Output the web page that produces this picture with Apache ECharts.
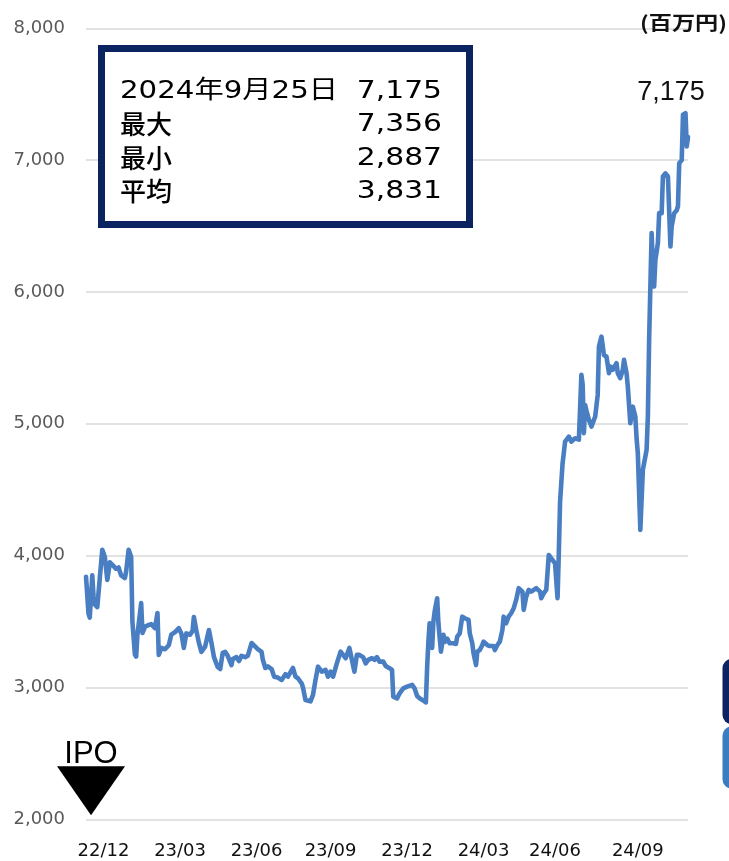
<!DOCTYPE html>
<html>
<head>
<meta charset="utf-8">
<script src="https://cdn.jsdelivr.net/npm/echarts@6/dist/echarts.min.js"></script>
<style>
  html, body { margin: 0; padding: 0; background: #fff; }
  #chart { width: 729px; height: 861px; }
</style>
</head>
<body>
<div id="chart"></div>
<script>
// Trading session index since listing, and market capitalisation (百万円) per session
const sessions = [0,1,2,3,5,6,7,9,11,13,15,17,18,19,22,24,26,27,28,31,32,34,36,37,39,40,41,44,45,47,49,52,55,57,58,60,63,66,68,71,74,76,78,80,83,85,86,88,90,92,95,98,100,102,105,107,109,111,113,116,117,120,122,124,127,129,132,135,137,140,141,143,145,148,150,153,156,159,161,165,167,169,172,173,175,179,181,183,185,188,191,193,195,197,200,203,207,208,210,212,214,216,218,221,223,225,228,230,232,234,237,239,242,244,245,248,250,253,256,260,262,264,266,269,271,272,273,274,276,277,278,280,281,283,285,286,288,290,293,295,296,298,300,302,305,306,308,309,311,312,314,316,317,320,322,325,326,328,330,332,333,335,337,339,341,343,345,348,349,351,353,355,357,359,362,363,365,367,369,371,374,376,377,378,380,381,382,385,387,390,393,395,396,397,398,399,401,403,406,408,409,411,413,415,417,418,420,423,424,426,428,429,431,432,434,436,438,439,440,442,444,447,448,449,450,451,452,453,454,456,457,459,460,462,463,464,466,467,469,471,472,473,475,476,477,478,479,480];
const prices = [3840,3700,3560,3530,3850,3690,3630,3610,3830,4045,3990,3815,3880,3950,3920,3900,3910,3880,3850,3830,3880,4045,3990,3500,3250,3234,3400,3640,3413,3460,3470,3480,3450,3565,3247,3300,3290,3320,3400,3420,3450,3410,3300,3410,3400,3430,3535,3430,3340,3270,3310,3436,3340,3232,3155,3140,3262,3270,3240,3170,3215,3230,3200,3240,3230,3240,3337,3310,3290,3270,3210,3148,3160,3140,3082,3075,3057,3100,3082,3148,3082,3070,3030,3000,2905,2895,2944,3057,3158,3120,3133,3082,3120,3082,3183,3272,3222,3222,3300,3210,3120,3247,3247,3230,3183,3209,3222,3209,3230,3196,3196,3163,3146,3133,2930,2917,2955,2993,3006,3020,2993,2935,2918,2900,2887,3150,3350,3487,3300,3500,3576,3677,3487,3272,3400,3345,3370,3335,3335,3330,3385,3411,3537,3525,3512,3411,3335,3260,3170,3272,3284,3322,3348,3322,3314,3314,3284,3322,3348,3436,3537,3487,3537,3563,3601,3664,3753,3727,3588,3689,3740,3727,3740,3753,3727,3677,3715,3740,4005,3980,3942,3677,4020,4410,4700,4780,4865,4903,4865,4890,4880,5371,5300,4929,5143,5100,5030,4979,5055,5219,5585,5661,5520,5510,5384,5435,5410,5460,5384,5346,5410,5485,5384,5283,5004,5130,5055,4890,4776,4195,4650,4803,5055,5636,6041,6446,6200,6041,6244,6370,6598,6598,6876,6900,6914,6876,6345,6500,6598,6620,6650,6977,7000,7344,7356,7356,7104,7175];

// Quarter tick labels on the session axis
const tickSessions = [14, 75, 136, 195, 256, 317, 374, 440];
const tickLabels = ['22/12', '23/03', '23/06', '23/09', '23/12', '24/03', '24/06', '24/09'];

// Value axis ticks
const yTicks = [2000, 3000, 4000, 5000, 6000, 7000, 8000];

// Summary figures
const ipoSession = 4;
const latestDate = '2024年9月25日';
const averagePrice = 3831;
const unitLabel = '(百万円)';
const statNames = ['最大', '最小', '平均'];

const fmt = v => Math.round(v).toLocaleString('en-US');
const lastPrice = prices[prices.length - 1];
const lastSession = sessions[sessions.length - 1];
const maxPrice = Math.max(...prices);
const minPrice = Math.min(...prices);
const statValues = [maxPrice, minPrice, averagePrice];

const chart = echarts.init(document.getElementById('chart'), null, { renderer: 'canvas' });

const seriesData = sessions.map((s, i) => [s, prices[i]]);

const labelFont = '"DejaVu Sans", "Noto Sans CJK JP", sans-serif';
const boxRows = [91, 124.5, 158, 191.5];

const boxTexts = [];
boxTexts.push({
  type: 'text', x: 120, y: boxRows[0], scaleX: 1.17, z: 101,
  style: { text: latestDate, font: '25px ' + labelFont, fill: '#000',
           align: 'left', verticalAlign: 'middle', textAlign: 'left', textVerticalAlign: 'middle' }
});
boxTexts.push({
  type: 'text', x: 442, y: boxRows[0], scaleX: 1.19, z: 101,
  style: { text: fmt(lastPrice), font: '25px ' + labelFont, fill: '#000',
           align: 'right', verticalAlign: 'middle', textAlign: 'right', textVerticalAlign: 'middle' }
});
statNames.forEach((name, i) => {
  boxTexts.push({
    type: 'text', x: 120, y: boxRows[i + 1], scaleX: 1.0, z: 101,
    style: { text: name, font: '500 26px "Noto Sans CJK JP", sans-serif', fill: '#000',
             align: 'left', verticalAlign: 'middle', textAlign: 'left', textVerticalAlign: 'middle' }
  });
  boxTexts.push({
    type: 'text', x: 442, y: boxRows[i + 1], scaleX: 1.19, z: 101,
    style: { text: fmt(statValues[i]), font: '25px ' + labelFont, fill: '#000',
             align: 'right', verticalAlign: 'middle', textAlign: 'right', textVerticalAlign: 'middle' }
  });
});

const option = {
  animation: false,
  backgroundColor: '#ffffff',
  grid: { left: 86, right: 41, top: 28.3, bottom: 41.7, containLabel: false, outerBoundsMode: 'none' },
  xAxis: {
    type: 'value',
    min: 0,
    max: 480,
    axisLine: { show: false },
    axisTick: { show: false },
    splitLine: { show: false },
    axisLabel: {
      customValues: tickSessions,
      formatter: v => {
        const k = tickSessions.indexOf(v);
        return k >= 0 ? tickLabels[k] : '';
      },
      margin: 23,
      fontSize: 18,
      fontFamily: 'DejaVu Sans',
      color: '#111'
    }
  },
  yAxis: {
    type: 'value',
    min: yTicks[0],
    max: yTicks[yTicks.length - 1],
    interval: 1000,
    axisLine: { show: false },
    axisTick: { show: false },
    splitLine: { lineStyle: { color: '#d9d9d9', width: 1.6 } },
    axisLabel: {
      formatter: v => fmt(v),
      margin: 21,
      fontSize: 18,
      fontFamily: 'DejaVu Sans',
      color: '#5a5a5a'
    }
  },
  series: [{
    type: 'line',
    data: seriesData,
    showSymbol: false,
    clip: false,
    lineStyle: { color: '#4a7ec2', width: 4.6, join: 'round', cap: 'round' },
    markPoint: {
      animation: false,
      data: [
        {
          coord: [lastSession, lastPrice],
          symbol: 'circle', symbolSize: 1,
          itemStyle: { color: 'rgba(0,0,0,0)' },
          label: {
            show: true, position: 'inside', offset: [-17, -45],
            formatter: () => fmt(lastPrice),
            fontSize: 27, fontFamily: 'Liberation Sans', color: '#111'
          }
        },
        {
          coord: [ipoSession, yTicks[0]],
          symbol: 'triangle', symbolRotate: 180, symbolSize: [68, 49], symbolOffset: [0, -28.5],
          itemStyle: { color: '#000' },
          label: {
            show: true, position: 'top', distance: 0, offset: [0, 4],
            formatter: 'IPO',
            fontSize: 31, fontFamily: 'Liberation Sans', color: '#000'
          }
        }
      ]
    }
  }],
  graphic: [
    {
      type: 'rect', z: 100,
      shape: { x: 101.5, y: 48.5, width: 368, height: 176 },
      style: { fill: '#ffffff', stroke: '#0b2461', lineWidth: 7 }
    },
    ...boxTexts,
    {
      type: 'text', x: 727, y: 23, scaleX: 1.22, z: 101,
      style: { text: unitLabel, font: 'bold 19px "Noto Sans CJK JP", sans-serif', fill: '#111',
               align: 'right', verticalAlign: 'middle', textAlign: 'right', textVerticalAlign: 'middle' }
    },
    {
      type: 'rect', z: 100,
      shape: { x: 722.5, y: 659, width: 40, height: 65, r: 9 },
      style: { fill: '#0b2461' }
    },
    {
      type: 'rect', z: 100,
      shape: { x: 722.5, y: 726.5, width: 40, height: 62, r: 9 },
      style: { fill: '#3a7dc1' }
    }
  ]
};

chart.setOption(option);
</script>
</body>
</html>
